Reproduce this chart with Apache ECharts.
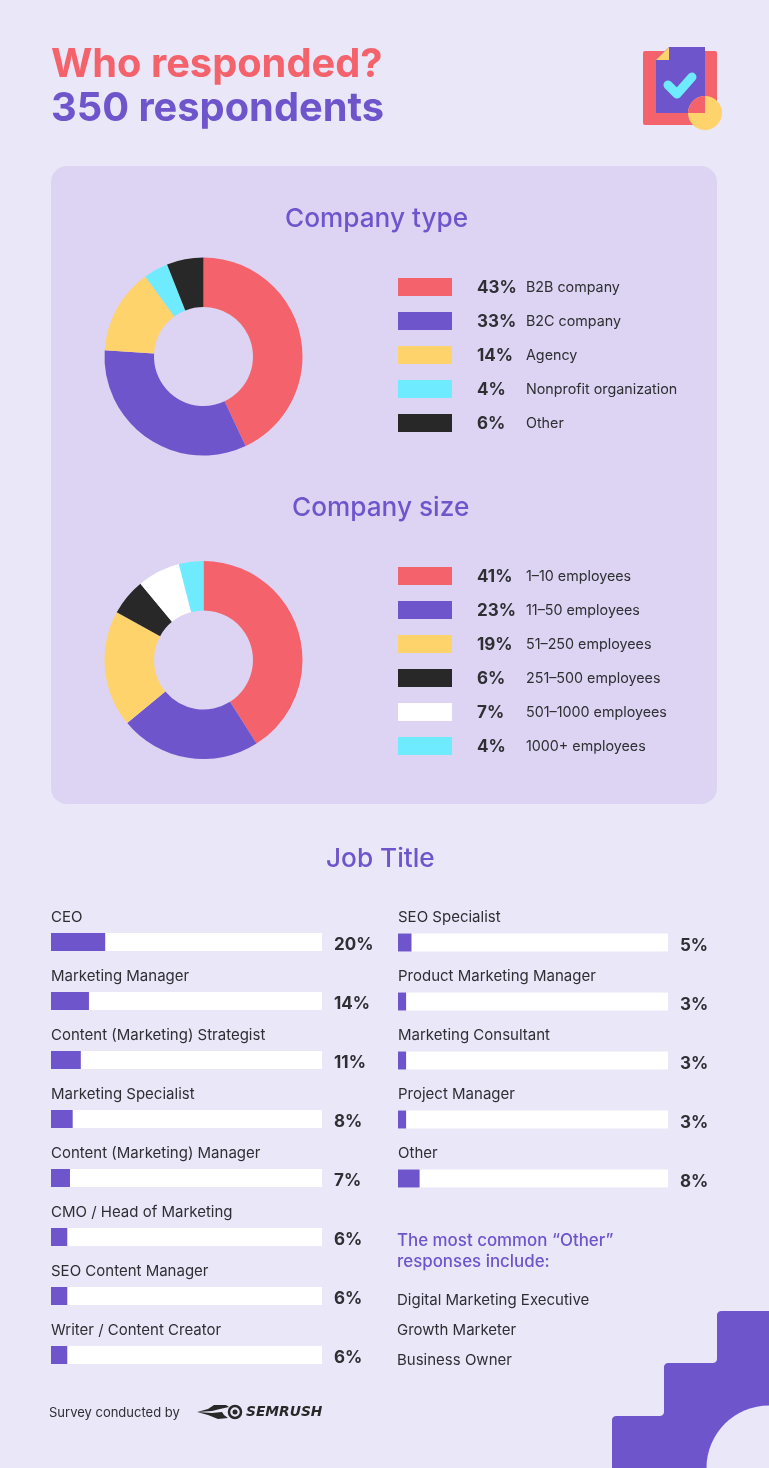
<!DOCTYPE html>
<html lang="en">
<head>
    <meta charset="UTF-8">
    <title>Who responded?</title>
    <script src="https://cdn.jsdelivr.net/npm/echarts@6/dist/echarts.min.js"></script>
    <style>
        html, body { margin: 0; padding: 0; background: #E9E7F8; }
        #main { width: 769px; height: 1468px; }
    </style>
</head>
<body>
<div id="main"></div>

<script>
    var RED = '#F4626C', PURPLE = '#6F55CC', YELLOW = '#FFD36C', CYAN = '#6FEBFF',
        BLACK = '#282828', WHITE = '#FFFFFF', BG = '#E9E7F8', PANEL = '#DCD4F2', FONT = 'Inter';

    var companyType = [
        {name: 'B2B company', value: 43, itemStyle: {color: RED}},
        {name: 'B2C company', value: 33, itemStyle: {color: PURPLE}},
        {name: 'Agency', value: 14, itemStyle: {color: YELLOW}},
        {name: 'Nonprofit organization', value: 4, itemStyle: {color: CYAN}},
        {name: 'Other', value: 6, itemStyle: {color: BLACK}}
    ];
    var companySize = [
        {name: '1–10 employees', value: 41, itemStyle: {color: RED}},
        {name: '11–50 employees', value: 23, itemStyle: {color: PURPLE}},
        {name: '51–250 employees', value: 19, itemStyle: {color: YELLOW}},
        {name: '251–500 employees', value: 6, itemStyle: {color: BLACK}},
        {name: '501–1000 employees', value: 7, itemStyle: {color: WHITE}},
        {name: '1000+ employees', value: 4, itemStyle: {color: CYAN}}
    ];
    var jobsLeft = [
        ['CEO', 20], ['Marketing Manager', 14], ['Content (Marketing) Strategist', 11],
        ['Marketing Specialist', 8], ['Content (Marketing) Manager', 7],
        ['CMO / Head of Marketing', 6], ['SEO Content Manager', 6], ['Writer / Content Creator', 6]
    ];
    var jobsRight = [
        ['SEO Specialist', 5], ['Product Marketing Manager', 3], ['Marketing Consultant', 3],
        ['Project Manager', 3], ['Other', 8]
    ];

    function legendFor(data, top) {
        var lookup = {};
        data.forEach(function (d) { lookup[d.name] = d.value; });
        return {
            orient: 'vertical', left: 398, top: top, padding: 0,
            itemWidth: 54, itemHeight: 18, itemGap: 15.5, icon: 'rect',
            selectedMode: false,
            data: data.map(function (d) { return d.name; }),
            formatter: function (name) {
                return '{s|}{p|' + lookup[name] + '%}{n|' + name + '}';
            },
            textStyle: {
                rich: {
                    s: {width: 20},
                    p: {width: 49, padding: [2, 0, 0, 0], fontFamily: FONT, fontSize: 17, fontWeight: 700, color: '#2E2E33'},
                    n: {padding: [2, 0, 0, 0], fontFamily: FONT, fontSize: 14.3, color: '#2E2E33'}
                }
            }
        };
    }
    function pieFor(data, cy) {
        return {
            type: 'pie', center: [203.5, cy], radius: [49.5, 99], startAngle: 90,
            label: {show: false}, silent: true, data: data
        };
    }
    function barsFor(rows, index) {
        var track = {
            type: 'bar', xAxisIndex: index, yAxisIndex: index, barWidth: 18, barGap: '-100%',
            silent: true, itemStyle: {color: WHITE},
            data: rows.map(function () { return 100; }),
            label: {
                show: true, position: 'right', distance: 12, offset: [0, 3],
                fontFamily: FONT, fontSize: 17, fontWeight: 700, color: '#2E2E33',
                formatter: function (p) { return rows[p.dataIndex][1] + '%'; }
            }
        };
        var value = {
            type: 'bar', xAxisIndex: index, yAxisIndex: index, barWidth: 18, barGap: '-100%',
            silent: true, itemStyle: {color: PURPLE},
            data: rows.map(function (r) { return r[1]; }),
            label: {
                show: true, position: [0, -16], verticalAlign: 'middle', align: 'left',
                fontFamily: FONT, fontSize: 15, color: '#2E2E33', formatter: '{b}'
            }
        };
        return [track, value];
    }
    function heading(text, left, top, size, color, weight) {
        return {
            text: text, left: left, top: top, padding: 0,
            textStyle: {fontFamily: FONT, fontSize: size, fontWeight: weight, color: color}
        };
    }
    function plainText(text, x, y, size, color, weight) {
        return {
            type: 'text', x: x, y: y,
            style: {text: text, fill: color, fontFamily: FONT, fontSize: size, fontWeight: weight || 400, verticalAlign: 'middle'}
        };
    }
    // quarter arc as points, for the rounded steps of the corner shape
    function arc(cx, cy, r, from, to) {
        var pts = [];
        for (var i = 0; i <= 5; i++) {
            var a = (from + (to - from) * i / 5) * Math.PI / 180;
            pts.push([cx + r * Math.cos(a), cy + r * Math.sin(a)]);
        }
        return pts;
    }
    var stairs = [[612, 1468]]
        .concat(arc(616, 1420, 4, 180, 270), arc(660, 1412, 4, 90, 0))
        .concat(arc(668, 1367, 4, 180, 270), arc(713, 1359, 4, 90, 0))
        .concat(arc(721, 1315, 4, 180, 270), [[769, 1311], [769, 1468]]);

    var myChart = echarts.init(document.getElementById('main'));
    var option = {
        backgroundColor: BG,
        animation: false,
        title: [
            heading('Who responded?', 51, 45, 39.8, RED, 700),
            heading('350 respondents', 51, 89, 39.8, PURPLE, 700),
            heading('Company type', 285, 206, 26.2, PURPLE, 500),
            heading('Company size', 292, 495, 26.2, PURPLE, 500),
            heading('Job Title', 326, 846, 26.2, PURPLE, 500)
        ],
        legend: [legendFor(companyType, 278), legendFor(companySize, 567)],
        grid: [
            {left: 51, width: 271, top: 912.5, height: 472},
            {left: 398, width: 270, top: 913, height: 295}
        ],
        xAxis: [
            {type: 'value', gridIndex: 0, min: 0, max: 100, show: false},
            {type: 'value', gridIndex: 1, min: 0, max: 100, show: false}
        ],
        yAxis: [
            {type: 'category', gridIndex: 0, inverse: true, show: false, data: jobsLeft.map(function (r) { return r[0]; })},
            {type: 'category', gridIndex: 1, inverse: true, show: false, data: jobsRight.map(function (r) { return r[0]; })}
        ],
        series: [pieFor(companyType, 356.5), pieFor(companySize, 660)]
            .concat(barsFor(jobsLeft, 0)).concat(barsFor(jobsRight, 1)),
        graphic: [
            {type: 'rect', z: -10, shape: {x: 51, y: 166, width: 666, height: 638, r: 16}, style: {fill: PANEL}},

            // clipboard icon
            {type: 'rect', shape: {x: 643, y: 51, width: 74, height: 74, r: 2}, style: {fill: RED}},
            {type: 'polygon', shape: {points: [[669, 47], [705, 47], [705, 113], [656, 113], [656, 60]]}, style: {fill: PURPLE}},
            {type: 'polygon', shape: {points: [[669, 47], [669, 60], [656, 60]]}, style: {fill: YELLOW}},
            {type: 'circle', shape: {cx: 705, cy: 113, r: 17}, style: {fill: YELLOW}},
            {type: 'sector', shape: {cx: 705, cy: 113, r: 17, startAngle: Math.PI, endAngle: Math.PI * 1.5}, style: {fill: RED}},
            {type: 'polyline', shape: {points: [[668, 85], [677, 94], [692, 77]]},
                style: {stroke: CYAN, lineWidth: 9, lineCap: 'round', lineJoin: 'round', fill: null}},

            // the "other" note, right column
            plainText('The most common “Other”', 397, 1240.5, 16.9, PURPLE, 500),
            plainText('responses include:', 397, 1261.5, 16.9, PURPLE, 500),
            plainText('Digital Marketing Executive', 397, 1300.5, 15, '#2E2E33'),
            plainText('Growth Marketer', 397, 1330.5, 15, '#2E2E33'),
            plainText('Business Owner', 397, 1360.5, 15, '#2E2E33'),

            // footer
            plainText('Survey conducted by', 49, 1413, 13, '#2E2E33'),
            {type: 'polygon', shape: {points: [[197, 1412], [208, 1409], [214, 1405], [226, 1405], [229, 1407], [220, 1409], [212, 1411]]}, style: {fill: BLACK}},
            {type: 'polygon', shape: {points: [[197, 1412], [212, 1413], [222, 1412], [224, 1415], [228, 1418], [218, 1419], [208, 1415]]}, style: {fill: BLACK}},
            {type: 'circle', shape: {cx: 235, cy: 1412, r: 6}, style: {fill: 'none', stroke: BLACK, lineWidth: 2.5}},
            {type: 'circle', shape: {cx: 235, cy: 1412, r: 2.5}, style: {fill: BLACK}},
            {type: 'text', x: 246, y: 1412.5, style: {text: 'SEMRUSH', fill: BLACK, fontFamily: 'DejaVu Sans', fontStyle: 'italic', fontWeight: 700, fontSize: 13.8, verticalAlign: 'middle'}},

            // stepped corner
            {type: 'polygon', shape: {points: stairs}, style: {fill: PURPLE}},
            {type: 'circle', shape: {cx: 769, cy: 1468, r: 62.5}, style: {fill: BG}}
        ]
    };
    myChart.setOption(option);
</script>

</body>
</html>
